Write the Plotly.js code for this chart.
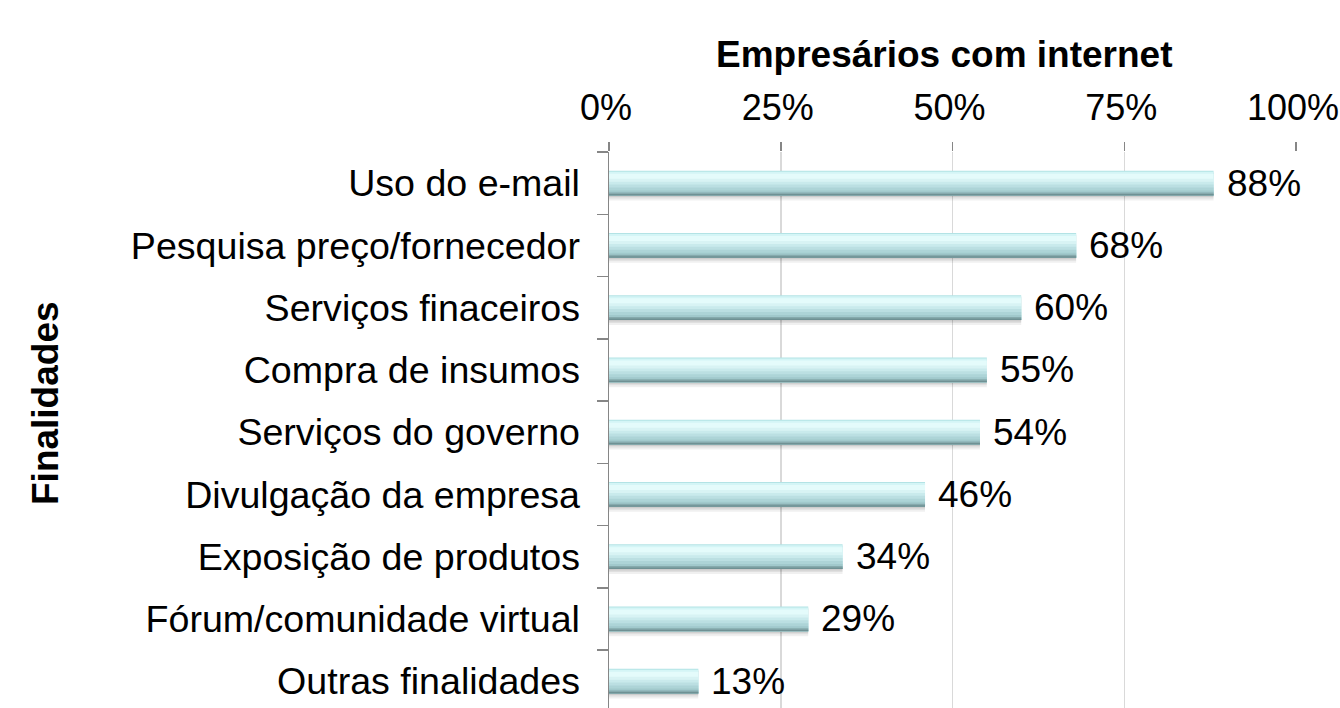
<!DOCTYPE html>
<html>
<head>
<meta charset="utf-8">
<script src="https://cdn.plot.ly/plotly-3.0.1.min.js"></script>
<style>html,body{margin:0;padding:0;background:#fff;}#chart{width:1340px;height:708px;}</style>
</head>
<body>
<div id="chart"></div>
<script>
const categories = ["Uso do e-mail","Pesquisa preço/fornecedor","Serviços finaceiros","Compra de insumos","Serviços do governo","Divulgação da empresa","Exposição de produtos","Fórum/comunidade virtual","Outras finalidades"];
const values = [88, 68, 60, 55, 54, 46, 34, 29, 13];
const xTickVals = [0, 25, 50, 75, 100];
const xTickText = ["0%","25%","50%","75%","100%"];
const chartTitle = "Empresários com internet";
const yTitle = "Finalidades";

const FONT = "Liberation Sans, Arial, sans-serif";
const FS = 37;

// plot area in pixels
const PL = 609, PR = 1296, PT = 152, PB = 708;
const PW = PR - PL, PH = PB - PT;

// bar shading bands: [start px from top of bar, colour]; bar is 25 px tall
const BAR_PX = 25;
const U = 0.4 / BAR_PX;
const bands = [
  [0, "#b3e3e5"],
  [1, "#d4f5f6"],
  [3, "#e4fbfb"],
  [8, "#d8f3f4"],
  [11, "#c9eaec"],
  [14, "#bbdfe2"],
  [17, "#add4d7"],
  [20, "#a1c9cc"],
  [22, "#86aaad"],
  [23.5, "#6f9194"]
];

function layer(color, a, b) {
  return {
    type: "bar", orientation: "h", x: values, y: categories,
    offset: -0.2 + a * U, width: (b - a) * U,
    marker: {color: color, line: {width: 0}},
    hoverinfo: "skip", showlegend: false
  };
}

const traces = [
  layer("rgba(0,0,0,0.06)", 2, 30),
  layer("rgba(0,0,0,0.07)", 2, 28),
  layer("rgba(0,0,0,0.08)", 2, 26.5)
];
bands.forEach(b => traces.push(layer(b[1], b[0], BAR_PX)));

const annotations = values.map((v, i) => ({
  x: v, y: categories[i], xref: "x", yref: "y",
  text: v + "%", showarrow: false, xanchor: "left", yanchor: "middle",
  xshift: 11, font: {family: FONT, size: FS, color: "#000"}
}));
annotations.push({
  x: (944 - PL) / PW, y: (PB - 55) / PH, xref: "paper", yref: "paper",
  text: "<b>" + chartTitle + "</b>", showarrow: false, xanchor: "center", yanchor: "middle",
  font: {family: FONT, size: FS, color: "#000"}
});
annotations.push({
  x: (45 - PL) / PW, y: (PB - 403) / PH, xref: "paper", yref: "paper",
  text: "<b>" + yTitle + "</b>", showarrow: false, textangle: -90,
  xanchor: "center", yanchor: "middle",
  font: {family: FONT, size: FS, color: "#000"}
});

const layout = {
  width: 1340, height: 708,
  margin: {l: PL, r: 1340 - PR, t: PT, b: 0, pad: 0},
  paper_bgcolor: "#fff", plot_bgcolor: "#fff",
  barmode: "overlay",
  font: {family: FONT, size: FS, color: "#000"},
  xaxis: {
    side: "top", range: [0, 100], tickvals: xTickVals, ticktext: xTickText,
    showgrid: true, gridcolor: "#d9d9d9", gridwidth: 1.5,
    ticks: "outside", ticklen: 9, tickcolor: "#868686", tickwidth: 1.5,
    showline: false, zeroline: false, ticklabelstandoff: 8,
    ticklabeloverflow: "allow", ticklabelshift: -3,
    tickfont: {family: FONT, size: 36, color: "#000"}, fixedrange: true
  },
  yaxis: {
    type: "category", categoryorder: "array", categoryarray: categories,
    range: [-0.5 + PH / 62.25, -0.5],
    showgrid: false, showline: true, linecolor: "#868686", linewidth: 1.5,
    ticks: "outside", tickson: "boundaries", ticklen: 11, tickcolor: "#868686", tickwidth: 1.5,
    ticklabelstandoff: 20,
    tickfont: {family: FONT, size: 37.6, color: "#000"}, fixedrange: true
  },
  annotations: annotations
};

Plotly.newPlot("chart", traces, layout, {displayModeBar: false, staticPlot: true});
</script>
</body>
</html>
